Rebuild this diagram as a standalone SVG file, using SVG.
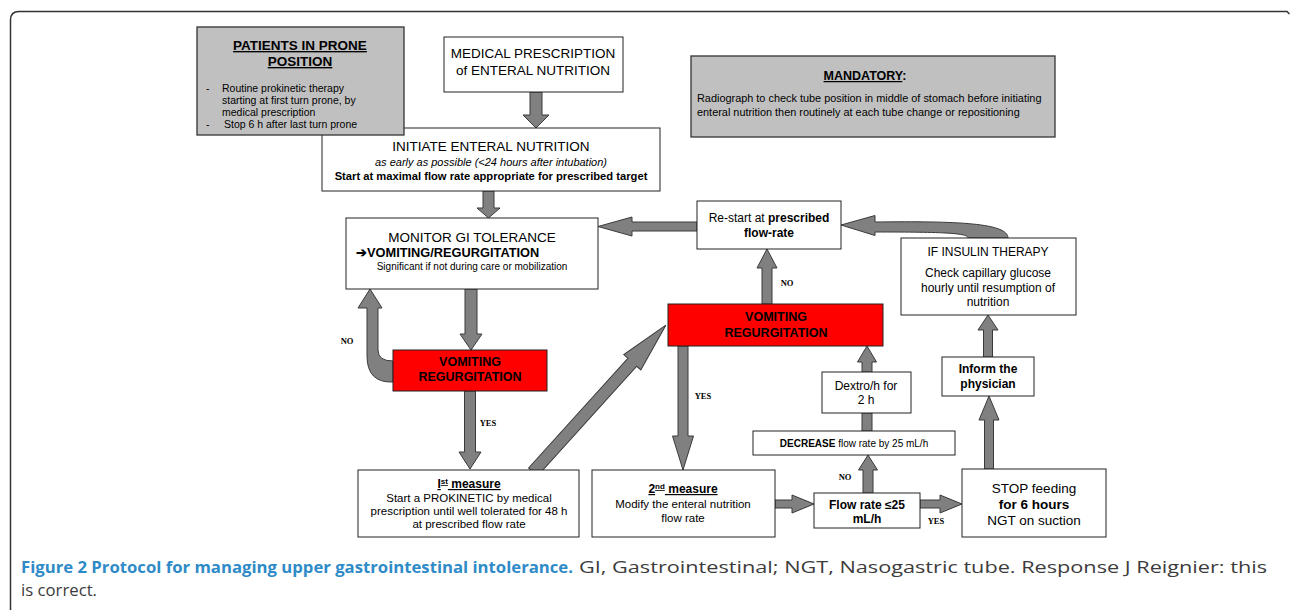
<svg xmlns="http://www.w3.org/2000/svg" width="1290" height="610" viewBox="0 0 1290 610">
<style>
.t{font-family:"Liberation Sans",Arial,sans-serif;fill:#000;text-anchor:middle}
.b{font-weight:bold}
.s{text-anchor:start}
.box{fill:#fff;stroke:#222;stroke-width:1}
.gbox{fill:#c0c0c0;stroke:#333;stroke-width:1.3}
.rbox{fill:#ff0000;stroke:#222;stroke-width:1}
.arr{fill:#808080;stroke:#3a3a3a;stroke-width:1;stroke-linejoin:miter}
.lbl{font-family:"Liberation Serif","Times New Roman",serif;font-weight:bold;font-size:8.5px;fill:#000;text-anchor:middle}
.cap{font-family:"Open Sans","Noto Sans",sans-serif;font-size:16px}
</style>
<rect width="1290" height="610" fill="#fff"/>
<path d="M10.5,610 L10.5,20 Q10.5,11.5 19,11.5 L1287,11.5 L1289.5,14" fill="none" stroke="#333" stroke-width="1.5"/>

<g id="connectors">
  <!-- Medical -> Initiate -->
  <path class="arr" d="M530,92 L542,92 L542,115 L549,115 L536,128 L523,115 L530,115 Z"/>
  <!-- Initiate -> Monitor -->
  <path class="arr" d="M483,191 L494,191 L494,208 L500,208 L488.5,218 L477,208 L483,208 Z"/>
  <!-- Monitor -> Red1 -->
  <path class="arr" d="M465,289 L477,289 L477,334 L482,334 L471,350 L460,334 L465,334 Z"/>
  <!-- NO curved Red1 -> Monitor -->
  <path class="arr" d="M370,289 L382,308 L378,308 L378,350 Q378,361 393,361 L393,382 Q367,383 367,356 L367,308 L358,308 Z"/>
  <!-- Red1 -> 1st -->
  <path class="arr" d="M464.5,391 L475.5,391 L475.5,452 L481,452 L470,469 L459,452 L464.5,452 Z"/>
  <!-- diagonal 1st -> Red2 -->
  <path class="arr" transform="translate(533,472) rotate(-47.86)" d="M0,-6 L148,-6 L148,-11.5 L198,0 L148,11.5 L148,6 L0,6 Z"/>
  <!-- Red2 -> 2nd -->
  <path class="arr" d="M678,346 L688,346 L688,436 L693.5,436 L683,470 L672.5,436 L678,436 Z"/>
  <!-- Red2 -> Restart -->
  <path class="arr" d="M762,304 L772,304 L772,268 L777,268 L767,249 L757,268 L762,268 Z"/>
  <!-- Restart -> Monitor -->
  <path class="arr" d="M697,222 L697,231 L632,231 L632,236 L598,226.5 L632,217 L632,222 Z"/>
  <!-- Insulin -> Restart curved -->
  <path class="arr" d="M841,225 L875,215.5 L875,222 C958,221 1008,223 1008,238 L968,238 C968,233 945,232 875,232 L875,235.5 Z"/>
  <!-- Inform -> Insulin -->
  <path class="arr" d="M983.5,357 L992.5,357 L992.5,330 L998,330 L988,315 L978,330 L983.5,330 Z"/>
  <!-- STOP -> Inform -->
  <path class="arr" d="M984.5,469 L993.5,469 L993.5,420 L999,420 L989,396 L979,420 L984.5,420 Z"/>
  <!-- 2nd -> Flow -->
  <path class="arr" d="M775,500 L792,500 L792,495 L814,504 L792,513 L792,508 L775,508 Z"/>
  <!-- Flow -> STOP -->
  <path class="arr" d="M920,500 L940,500 L940,495 L962,504 L940,513 L940,508 L920,508 Z"/>
  <!-- Flow -> Decrease -->
  <path class="arr" d="M863,493 L873,493 L873,470 L877.5,470 L868,455 L858.5,470 L863,470 Z"/>
  <!-- Decrease -> Dextro -->
  <rect class="arr" x="862" y="413" width="10" height="18"/>
  <!-- Dextro -> Red2 -->
  <path class="arr" d="M862,372 L872,372 L872,362 L876.5,362 L867,346 L857.5,362 L862,362 Z"/>
  <text class="lbl" x="347" y="344">NO</text>
  <text class="lbl" x="787" y="286">NO</text>
  <text class="lbl" x="488" y="426">YES</text>
  <text class="lbl" x="703" y="399">YES</text>
  <text class="lbl" x="845" y="480">NO</text>
  <text class="lbl" x="936" y="524">YES</text>
</g>

<g id="medical">
  <rect class="box" x="444" y="37" width="179" height="55"/>
  <text class="t" x="533" y="58" font-size="13.5">MEDICAL PRESCRIPTION</text>
  <text class="t" x="533" y="75" font-size="13.5">of ENTERAL NUTRITION</text>
</g>

<g id="initiate">
  <rect class="box" x="322" y="128" width="338" height="63"/>
  <text class="t" x="491" y="151" font-size="13.5">INITIATE ENTERAL NUTRITION</text>
  <text class="t" x="491" y="166" font-size="11" font-style="italic">as early as possible (&lt;24 hours after intubation)</text>
  <text class="t b" x="491" y="180" font-size="11.2">Start at maximal flow rate appropriate for prescribed target</text>
</g>

<g id="prone">
  <rect class="gbox" x="197" y="27" width="207" height="108"/>
  <text class="t b" x="300" y="50" font-size="13.5" text-decoration="underline">PATIENTS IN PRONE</text>
  <text class="t b" x="300" y="66" font-size="13.5" text-decoration="underline">POSITION</text>
  <text class="t s" font-size="10.5"><tspan x="206" y="92">-</tspan><tspan x="222" y="92">Routine prokinetic therapy</tspan><tspan x="222" y="104">starting at first turn prone, by</tspan><tspan x="222" y="116">medical prescription</tspan><tspan x="206" y="128">-</tspan><tspan x="224" y="128">Stop 6 h after last turn prone</tspan></text>
</g>

<g id="mandatory">
  <rect class="gbox" x="691" y="56" width="364" height="81"/>
  <text class="t b" x="865" y="80" font-size="12.5"><tspan text-decoration="underline">MANDATORY</tspan>:</text>
  <text class="t s" x="697" y="102" font-size="10.9">Radiograph to check tube position in middle of stomach before initiating</text>
  <text class="t s" x="697" y="116" font-size="10.9">enteral nutrition then routinely at each tube change or repositioning</text>
</g>

<g id="monitor">
  <rect class="box" x="346" y="218" width="252" height="71"/>
  <text class="t" x="472" y="242" font-size="13.5">MONITOR GI TOLERANCE</text>
  <text class="t b s" x="356" y="257" font-size="12.8">➔VOMITING/REGURGITATION</text>
  <text class="t" x="472" y="270" font-size="10">Significant if not during care or mobilization</text>
</g>

<g id="restart">
  <rect class="box" x="697" y="201" width="144" height="48"/>
  <text class="t" x="769" y="222" font-size="12">Re-start at <tspan class="b">prescribed</tspan></text>
  <text class="t b" x="769" y="237" font-size="12">flow-rate</text>
</g>

<g id="insulin">
  <rect class="box" x="901" y="238" width="175" height="77"/>
  <text class="t" x="988" y="256" font-size="12">IF INSULIN THERAPY</text>
  <text class="t" x="988" y="277" font-size="12">Check capillary glucose</text>
  <text class="t" x="988" y="292" font-size="12">hourly until resumption of</text>
  <text class="t" x="988" y="306" font-size="12">nutrition</text>
</g>

<g id="vomit1">
  <rect class="rbox" x="393" y="350" width="154" height="41"/>
  <text class="t b" x="470" y="366" font-size="12.5">VOMITING</text>
  <text class="t b" x="470" y="381" font-size="12.5">REGURGITATION</text>
</g>

<g id="vomit2">
  <rect class="rbox" x="668" y="304" width="215" height="42"/>
  <text class="t b" x="776" y="321" font-size="12.5">VOMITING</text>
  <text class="t b" x="776" y="337" font-size="12.5">REGURGITATION</text>
</g>

<g id="measure1">
  <rect class="box" x="358" y="470" width="221" height="67"/>
  <text class="t b" x="469" y="488" font-size="12" text-decoration="underline">I<tspan font-size="8" dy="-4">st</tspan><tspan dy="4"> measure</tspan></text>
  <text class="t" x="469" y="502" font-size="11.5">Start a PROKINETIC by medical</text>
  <text class="t" x="469" y="515" font-size="11.5">prescription until well tolerated for 48 h</text>
  <text class="t" x="469" y="528" font-size="11.5">at prescribed flow rate</text>
</g>

<g id="measure2">
  <rect class="box" x="592" y="470" width="183" height="67"/>
  <text class="t b" x="683" y="493" font-size="12" text-decoration="underline">2<tspan font-size="8" dy="-4">nd</tspan><tspan dy="4"> measure</tspan></text>
  <text class="t" x="683" y="508" font-size="11.5">Modify the enteral nutrition</text>
  <text class="t" x="683" y="522" font-size="11.5">flow rate</text>
</g>

<g id="flowrate">
  <rect class="box" x="814" y="493" width="106" height="35"/>
  <text class="t b" x="867" y="509" font-size="12">Flow rate ≤25</text>
  <text class="t b" x="867" y="523" font-size="12">mL/h</text>
</g>

<g id="decrease">
  <rect class="box" x="753" y="431" width="202" height="24"/>
  <text class="t" x="854" y="447" font-size="10"><tspan class="b">DECREASE</tspan> flow rate by 25 mL/h</text>
</g>

<g id="dextro">
  <rect class="box" x="822" y="372" width="89" height="41"/>
  <text class="t" x="866" y="390" font-size="12">Dextro/h for</text>
  <text class="t" x="866" y="404" font-size="12">2 h</text>
</g>

<g id="stop">
  <rect class="box" x="962" y="469" width="144" height="68"/>
  <text class="t" x="1034" y="493" font-size="13.5">STOP feeding</text>
  <text class="t b" x="1034" y="509" font-size="13.5">for 6 hours</text>
  <text class="t" x="1034" y="525" font-size="13.5">NGT on suction</text>
</g>

<g id="inform">
  <rect class="box" x="942" y="357" width="92" height="39"/>
  <text class="t b" x="988" y="373" font-size="12">Inform the</text>
  <text class="t b" x="988" y="388" font-size="12">physician</text>
</g>

<g id="caption">
  <text class="cap" x="21" y="573" font-weight="bold" fill="#2f8bc7" textLength="552" lengthAdjust="spacingAndGlyphs">Figure 2 Protocol for managing upper gastrointestinal intolerance.</text>
  <text class="cap" x="579" y="573" fill="#3c3c3c" textLength="688" lengthAdjust="spacingAndGlyphs">GI, Gastrointestinal; NGT, Nasogastric tube. Response J Reignier: this</text>
  <text class="cap" x="21" y="596" fill="#3c3c3c" textLength="76" lengthAdjust="spacingAndGlyphs">is correct.</text>
</g>
</svg>
